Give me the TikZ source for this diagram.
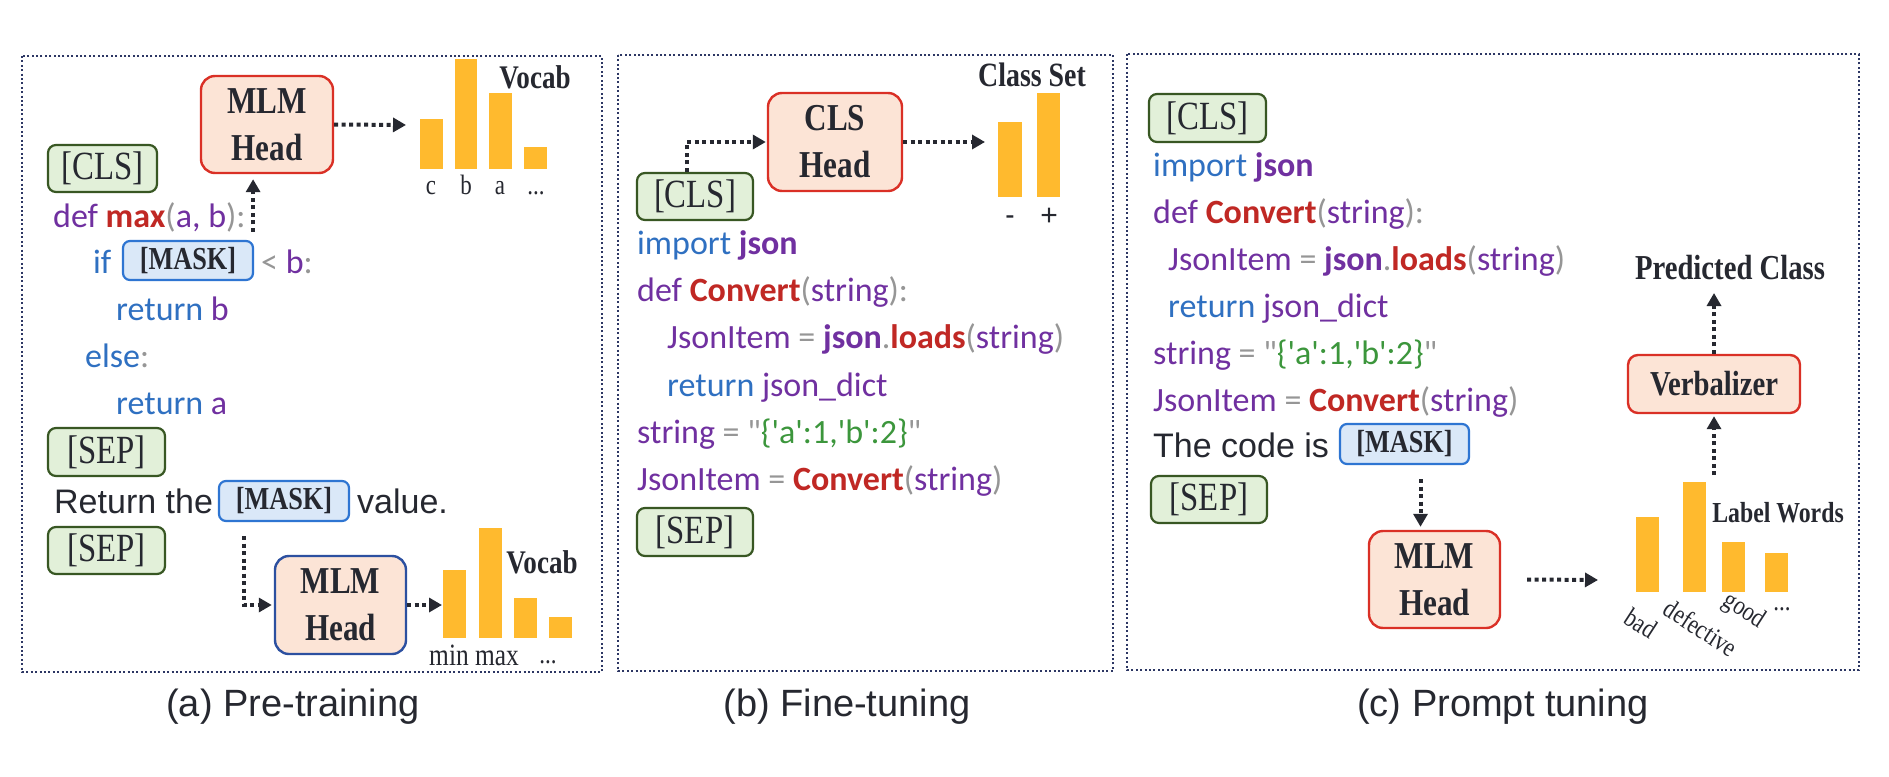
\documentclass[tikz,border=0pt]{standalone}
\usepackage{fontspec}
\setmainfont{Liberation Serif}
\newfontfamily\arialf{Liberation Sans}
\newfontfamily\codef{Carlito}
\newfontfamily\serifc[FakeStretch=0.82]{Liberation Serif}
\usetikzlibrary{arrows.meta,calc}

\definecolor{cblue}{RGB}{47,112,193}
\definecolor{cpurple}{RGB}{112,48,160}
\definecolor{cred}{RGB}{192,40,36}
\definecolor{cgray}{RGB}{150,150,150}
\definecolor{cgreen}{RGB}{60,150,60}
\definecolor{ink}{RGB}{38,40,48}
\definecolor{framec}{RGB}{45,55,100}
\definecolor{tokfill}{RGB}{226,240,217}
\definecolor{tokdraw}{RGB}{56,87,35}
\definecolor{headfill}{RGB}{252,228,214}
\definecolor{headdraw}{RGB}{218,48,38}
\definecolor{headdrawb}{RGB}{44,80,160}
\definecolor{maskfill}{RGB}{218,232,248}
\definecolor{maskdraw}{RGB}{46,117,210}
\definecolor{barc}{RGB}{255,186,46}

\newcommand\ckw[1]{\textcolor{cblue}{#1}}
\newcommand\cpu[1]{\textcolor{cpurple}{#1}}
\newcommand\cpb[1]{\textcolor{cpurple}{\bfseries #1}}
\newcommand\crd[1]{\textcolor{cred}{\bfseries #1}}
\newcommand\cgy[1]{\textcolor{cgray}{#1}}
\newcommand\cgr[1]{\textcolor{cgreen}{#1}}

\tikzset{
  x=1pt, y=-1pt,
  panel/.style={draw=framec, line width=2pt, dash pattern=on 2pt off 2.4pt},
  tok/.style={draw=tokdraw, fill=tokfill, line width=2.2pt, rounded corners=8pt, inner sep=0pt,
    font=\serifc\fontsize{40}{40}\selectfont, text=ink},
  headbox/.style={draw=headdraw, fill=headfill, line width=2.4pt, rounded corners=14pt, inner sep=0pt,
    align=center, font=\serifc\bfseries\fontsize{38}{47}\selectfont, text=ink},
  maskbox/.style={draw=maskdraw, fill=maskfill, line width=2.2pt, rounded corners=7pt, inner sep=0pt,
    font=\serifc\bfseries\fontsize{32}{32}\selectfont, text=ink},
  code/.style={anchor=base west, inner sep=0pt, font=\codef\fontsize{34}{40}\selectfont},
  plain/.style={anchor=base west, inner sep=0pt, font=\arialf\fontsize{34}{40}\selectfont, text=ink},
  lab/.style={inner sep=0pt, font=\serifc\bfseries\fontsize{33}{33}\selectfont, text=ink},
  tick/.style={anchor=base, inner sep=0pt, font=\serifc\fontsize{28}{28}\selectfont, text=ink},
  rtick/.style={inner sep=0pt, rotate=-33, font=\serifc\fontsize{27}{27}\selectfont, text=ink},
  capt/.style={anchor=base, inner sep=0pt, font=\arialf\fontsize{38}{40}\selectfont, text=ink},
  arr/.style={draw=ink, line width=4pt, dash pattern=on 4pt off 3.5pt, -{Triangle[length=13pt,width=14pt]}},
}

\begin{document}
\begin{tikzpicture}
\useasboundingbox[fill=white] (0,0) rectangle (1889,776);

% panels
\draw[panel] (22,56) rectangle (602,672);
\draw[panel] (618,55) rectangle (1113,671);
\draw[panel] (1127,54) rectangle (1859,670);

% ---------------- (a) Pre-training ----------------
\node[headbox, minimum width=132pt, minimum height=97pt] (mlma) at (267,124.5) {MLM\\Head};
\coordinate (ate) at (406,125);
\draw[arr] (mlma.east) -- (ate);
\fill[barc] (420,169) rectangle (443,119);
\fill[barc] (455,169) rectangle (477,59);
\fill[barc] (489,169) rectangle (512,93);
\fill[barc] (524,169) rectangle (547,147);
\node[tick] (ta1) at (431,194) {c};
\node[tick] (ta2) at (466,194) {b};
\node[tick] (ta3) at (500,194) {a};
\node[tick] (ta4) at (536,194) {...};
\node[lab] (voca) at (535,77) {Vocab};

\node[tok, minimum width=109pt, minimum height=47pt] (clsa) at (102.5,168.5) {[CLS]};
\node[code] (la1) at (53,227) {\cpu{def} \crd{max}\cgy{(}\cpu{a, b}\cgy{):}};
\node[code] (la2) at (93,273) {\ckw{if}};
\node[maskbox, minimum width=130pt, minimum height=39pt] (maska) at (188,260.5) {[MASK]};
\node[code] (la3) at (261,273) {\cgy{<} \cpu{b}\cgy{:}};
\node[code] (la4) at (116,320) {\ckw{return} \cpu{b}};
\node[code] (la5) at (85,367) {\ckw{else}\cgy{:}};
\node[code] (la6) at (116,414) {\ckw{return} \cpu{a}};
\node[tok, minimum width=117pt, minimum height=48pt] (sepa1) at (106.5,452) {[SEP]};
\node[plain] (ra) at (54,513) {Return the};
\node[maskbox, minimum width=130pt, minimum height=40pt] (maskb) at (284,501) {[MASK]};
\node[plain] (va) at (357,513) {value.};
\node[tok, minimum width=117pt, minimum height=47pt] (sepa2) at (106.5,550.5) {[SEP]};

\coordinate (a1s) at ([xshift=-1pt,yshift=8pt]maska.north east);
\draw[arr, shorten >=5pt] (a1s) -- (a1s |- mlma.south);

\node[headbox, draw=headdrawb, minimum width=131pt, minimum height=98pt] (mlmb) at (340.5,605) {MLM\\Head};
\coordinate (a2s) at ([xshift=26pt,yshift=-14pt]maskb.south west);
\draw[arr, shorten >=2pt] (a2s) |- (mlmb.west);
\coordinate (a2e) at (442,605);
\draw[arr] (mlmb.east) -- (a2e);
\fill[barc] (443,638) rectangle (466,570);
\fill[barc] (479,638) rectangle (502,528);
\fill[barc] (514,638) rectangle (537,598);
\fill[barc] (549,638) rectangle (572,617);
\node[tick, font=\serifc\fontsize{31}{31}\selectfont] (tb1) at (449,665) {min};
\node[tick, font=\serifc\fontsize{31}{31}\selectfont] (tb2) at (497,665) {max};
\node[tick] (tb3) at (548,663) {...};
\node[lab] (vocb) at (542,562) {Vocab};

\node[capt] (capa) at (293,716) {(a) Pre-training};

% ---------------- (b) Fine-tuning ----------------
\node[tok, minimum width=116pt, minimum height=47pt] (clsb) at (695,196.5) {[CLS]};
\node[headbox, minimum width=134pt, minimum height=98pt] (clsh) at (835,142) {CLS\\Head};
\coordinate (b1s) at ([xshift=-8pt]clsb.north);
\draw[arr, shorten >=1pt] (b1s) |- (clsh.west);
\coordinate (bte) at (985,142);
\draw[arr] (clsh.east) -- (bte);
\fill[barc] (998,197) rectangle (1022,122);
\fill[barc] (1037,197) rectangle (1060,93);
\node[tick, font=\serifc\fontsize{32}{32}\selectfont] (tc1) at (1010,224) {-};
\node[tick, font=\arialf\fontsize{30}{30}\selectfont] (tc2) at (1049,225) {+};
\node[lab, font=\serifc\bfseries\fontsize{34}{34}\selectfont] (clsset) at (1032,75) {Class Set};

\node[code] (lb1) at (637,254) {\ckw{import} \cpb{json}};
\node[code] (lb2) at (637,301) {\cpu{def} \crd{Convert}\cgy{(}\cpu{string}\cgy{):}};
\node[code] (lb3) at (667,348) {\cpu{JsonItem} \cgy{=} \cpb{json}\cgy{.}\crd{loads}\cgy{(}\cpu{string}\cgy{)}};
\node[code] (lb4) at (667,396) {\ckw{return} \cpu{json\_dict}};
\node[code] (lb5) at (637,443) {\cpu{string} \cgy{=} \cgy{\textquotedbl}\cgr{\{\textquotesingle a\textquotesingle:1,\textquotesingle b\textquotesingle:2\}}\cgy{\textquotedbl}};
\node[code] (lb6) at (637,490) {\cpu{JsonItem} \cgy{=} \crd{Convert}\cgy{(}\cpu{string}\cgy{)}};
\node[tok, minimum width=116pt, minimum height=48pt] (sepb) at (695,532) {[SEP]};

\node[capt] (capb) at (847,716) {(b) Fine-tuning};

% ---------------- (c) Prompt tuning ----------------
\node[tok, minimum width=117pt, minimum height=48pt] (clsc) at (1207.5,118) {[CLS]};
\node[code] (lc1) at (1153,176) {\ckw{import} \cpb{json}};
\node[code] (lc2) at (1153,223) {\cpu{def} \crd{Convert}\cgy{(}\cpu{string}\cgy{):}};
\node[code] (lc3) at (1168,270) {\cpu{JsonItem} \cgy{=} \cpb{json}\cgy{.}\crd{loads}\cgy{(}\cpu{string}\cgy{)}};
\node[code] (lc4) at (1168,317) {\ckw{return} \cpu{json\_dict}};
\node[code] (lc5) at (1153,364) {\cpu{string} \cgy{=} \cgy{\textquotedbl}\cgr{\{\textquotesingle a\textquotesingle:1,\textquotesingle b\textquotesingle:2\}}\cgy{\textquotedbl}};
\node[code] (lc6) at (1153,411) {\cpu{JsonItem} \cgy{=} \crd{Convert}\cgy{(}\cpu{string}\cgy{)}};
\node[plain] (tci) at (1153,457) {The code is};
\node[maskbox, minimum width=129pt, minimum height=40pt] (maskc) at (1404.5,444) {[MASK]};
\node[tok, minimum width=116pt, minimum height=47pt] (sepc) at (1209,499.5) {[SEP]};

\node[headbox, minimum width=131pt, minimum height=97pt] (mlmc) at (1434.5,579.5) {MLM\\Head};
\coordinate (c1s) at ([xshift=16pt,yshift=-14pt]maskc.south);
\draw[arr, shorten >=3pt] (c1s) -- (c1s |- mlmc.north);
\coordinate (c2s) at ([xshift=26pt]mlmc.east);
\coordinate (c2e) at (1598,580);
\draw[arr] (c2s) -- (c2e);

\fill[barc] (1636,592) rectangle (1659,517);
\fill[barc] (1683,592) rectangle (1706,482);
\fill[barc] (1722,592) rectangle (1745,542);
\fill[barc] (1765,592) rectangle (1788,553);
\node[rtick] (rt1) at (1641,623) {bad};
\node[rtick] (rt2) at (1701,628) {defective};
\node[rtick] (rt3) at (1744,611) {good};
\node[tick] (rt4) at (1782,610) {...};
\node[lab, font=\serifc\bfseries\fontsize{29}{29}\selectfont] (lw) at (1778,513) {Label Words};

\node[headbox, font=\serifc\bfseries\fontsize{35}{35}\selectfont, rounded corners=10pt,
      minimum width=172pt, minimum height=58pt] (verb) at (1714,384) {Verbalizer};
\coordinate (c3s) at (1714,475);
\draw[arr, shorten >=2pt] (c3s) -- (verb.south);
\node[lab, font=\serifc\bfseries\fontsize{35}{35}\selectfont] (pred) at (1730,268) {Predicted Class};
\coordinate (c4e) at (1714,293);
\draw[arr] (verb.north) -- (c4e);

\node[capt] (capc) at (1503,716) {(c) Prompt tuning};
\end{tikzpicture}
\end{document}
